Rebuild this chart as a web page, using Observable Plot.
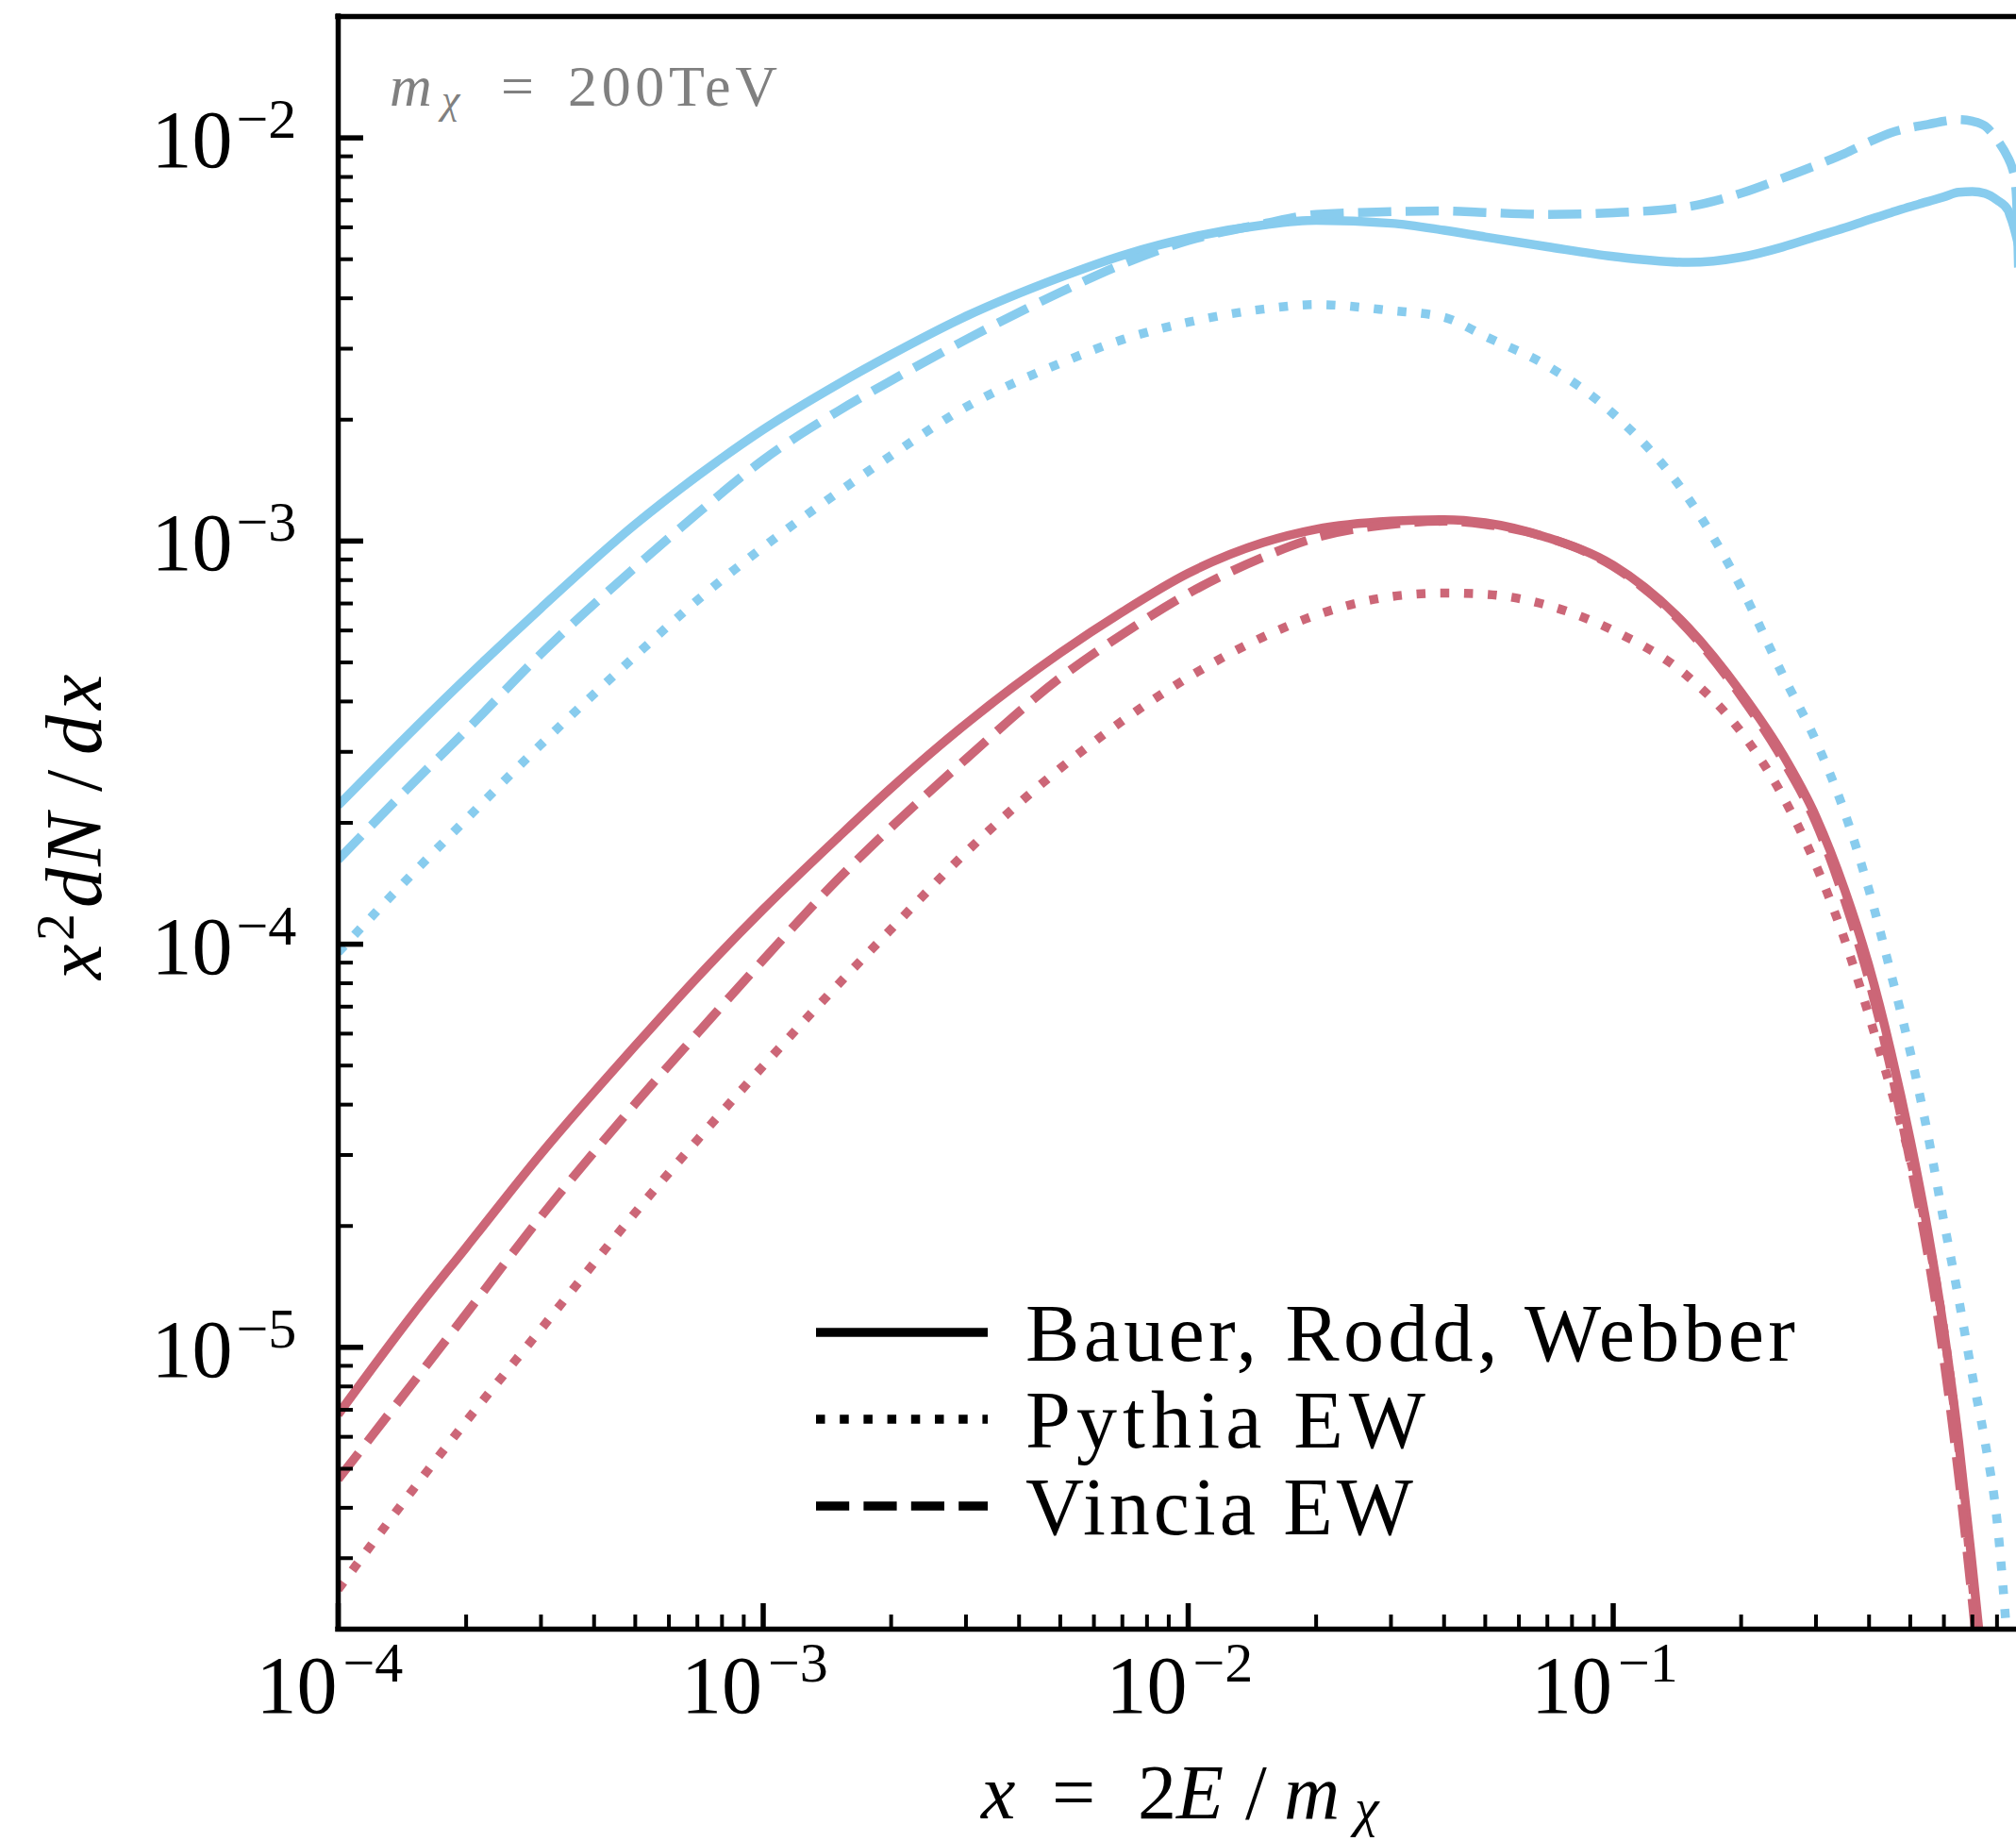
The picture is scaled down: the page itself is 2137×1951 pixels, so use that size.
<!DOCTYPE html>
<html>
<head>
<meta charset="utf-8">
<script src="https://cdn.jsdelivr.net/npm/d3@7"></script>
<script src="https://cdn.jsdelivr.net/npm/@observablehq/plot@0.6"></script>
<style>
  html, body { margin: 0; padding: 0; background: #fff; overflow: hidden; }
  #chart svg { display: block; }
</style>
</head>
<body>
<div id="chart"></div>
<script>
// ---------------- data ----------------
const xGrid = [1e-4, 1.5e-4, 2e-4, 3e-4, 5e-4, 7e-4, 1e-3, 1.5e-3, 2e-3, 3e-3, 5e-3, 7e-3,
  1e-2, 1.5e-2, 2e-2, 3e-2, 4e-2, 5e-2, 7e-2, 0.1, 0.15, 0.2, 0.25, 0.3, 0.35, 0.4, 0.45, 0.5,
  0.55, 0.6, 0.65, 0.7, 0.75, 0.8, 0.85, 0.86, 0.87, 0.88, 0.89, 0.9];

// light blue family
const blueBRW = [2.21e-4, 3.40e-4, 4.57e-4, 6.82e-4, 1.10e-3, 1.45e-3, 1.89e-3, 2.45e-3, 2.90e-3,
  3.61e-3, 4.51e-3, 5.11e-3, 5.65e-3, 6.08e-3, 6.24e-3, 6.14e-3, 5.90e-3, 5.68e-3, 5.37e-3, 5.08e-3,
  4.91e-3, 5.06e-3, 5.36e-3, 5.69e-3, 5.98e-3, 6.27e-3, 6.52e-3, 6.75e-3, 6.95e-3, 7.14e-3,
  7.33e-3, 7.36e-3, 7.28e-3, 7.01e-3, 6.61e-3, 6.38e-3, 6.17e-3, 5.92e-3, 5.65e-3, 5.37e-3];
const bluePythia = [9.55e-5, 1.50e-4, 2.04e-4, 3.13e-4, 5.19e-4, 7.13e-4, 9.66e-4, 1.32e-3, 1.63e-3,
  2.15e-3, 2.76e-3, 3.16e-3, 3.49e-3, 3.76e-3, 3.86e-3, 3.73e-3, 3.59e-3, 3.22e-3, 2.72e-3, 2.07e-3,
  1.28e-3, 7.67e-4, 4.68e-4, 3.19e-4, 2.13e-4, 1.36e-4, 8.49e-5, 5.41e-5, 3.37e-5, 2.05e-5,
  1.32e-5, 8.51e-6, 5.82e-6, 3.72e-6, 1.74e-6, null, null, null, null, null];
const blueVincia = [1.62e-4, 2.51e-4, 3.39e-4, 5.25e-4, 8.61e-4, 1.17e-3, 1.59e-3, 2.10e-3, 2.50e-3,
  3.16e-3, 4.14e-3, 4.86e-3, 5.56e-3, 6.12e-3, 6.46e-3, 6.56e-3, 6.59e-3, 6.53e-3, 6.46e-3, 6.52e-3,
  6.75e-3, 7.29e-3, 7.94e-3, 8.55e-3, 9.14e-3, 9.77e-3, 1.03e-2, 1.06e-2, 1.08e-2, 1.10e-2,
  1.11e-2, 1.10e-2, 1.07e-2, 9.91e-3, 8.91e-3, 8.67e-3, 8.38e-3, 7.94e-3, 6.92e-3, 4.47e-3];

// red family
const redBRW = [6.82e-6, 1.21e-5, 1.77e-5, 3.02e-5, 5.60e-5, 8.28e-5, 1.22e-4, 1.84e-4, 2.44e-4,
  3.52e-4, 5.28e-4, 6.67e-4, 8.32e-4, 9.91e-4, 1.07e-3, 1.12e-3, 1.13e-3, 1.11e-3, 1.02e-3, 8.71e-4,
  6.11e-4, 4.21e-4, 2.97e-4, 2.07e-4, 1.37e-4, 8.81e-5, 5.42e-5, 3.27e-5, 1.94e-5, 1.10e-5,
  5.83e-6, 2.86e-6, 1.41e-6, null, null, null, null, null, null, null];
const redPythia = [2.51e-6, 4.44e-6, 6.55e-6, 1.11e-5, 2.16e-5, 3.27e-5, 4.99e-5, 7.94e-5, 1.09e-4,
  1.69e-4, 2.73e-4, 3.58e-4, 4.59e-4, 5.78e-4, 6.55e-4, 7.28e-4, 7.43e-4, 7.38e-4, 6.93e-4, 6.00e-4,
  4.61e-4, 3.36e-4, 2.34e-4, 1.57e-4, 1.03e-4, 6.64e-5, 4.38e-5, 2.93e-5, 1.88e-5, 1.10e-5,
  5.65e-6, 2.59e-6, 1.26e-6, null, null, null, null, null, null, null];
const redVincia = [4.71e-6, 8.17e-6, 1.21e-5, 2.11e-5, 4.02e-5, 6.01e-5, 9.14e-5, 1.45e-4, 1.95e-4,
  2.88e-4, 4.58e-4, 5.87e-4, 7.41e-4, 9.12e-4, 1.02e-3, 1.10e-3, 1.12e-3, 1.10e-3, 1.02e-3, 8.65e-4,
  6.03e-4, 4.12e-4, 2.88e-4, 2.00e-4, 1.29e-4, 8.13e-5, 4.90e-5, 2.88e-5, 1.70e-5, 9.33e-6,
  4.79e-6, 2.34e-6, 1.12e-6, null, null, null, null, null, null, null];

const legendLabels = ["Bauer, Rodd, Webber", "Pythia EW", "Vincia EW"];
const massLabel = "200TeV";

const xMajorTicks = [1e-4, 1e-3, 1e-2, 1e-1];
const xTickExponents = ["\u22124", "\u22123", "\u22122", "\u22121"];
const xMinorTicks = [2e-4, 3e-4, 4e-4, 5e-4, 6e-4, 7e-4, 8e-4, 9e-4,
  2e-3, 3e-3, 4e-3, 5e-3, 6e-3, 7e-3, 8e-3, 9e-3,
  2e-2, 3e-2, 4e-2, 5e-2, 6e-2, 7e-2, 8e-2, 9e-2,
  0.2, 0.3, 0.4, 0.5, 0.6, 0.7, 0.8];
const yMajorTicks = [1e-5, 1e-4, 1e-3, 1e-2];
const yTickExponents = ["\u22125", "\u22124", "\u22123", "\u22122"];
const yMinorTicks = [3e-6, 4e-6, 5e-6, 6e-6, 7e-6, 8e-6, 9e-6,
  2e-5, 3e-5, 4e-5, 5e-5, 6e-5, 7e-5, 8e-5, 9e-5,
  2e-4, 3e-4, 4e-4, 5e-4, 6e-4, 7e-4, 8e-4, 9e-4,
  2e-3, 3e-3, 4e-3, 5e-3, 6e-3, 7e-3, 8e-3, 9e-3];

// ---------------- styling ----------------
const SERIF = "'Liberation Serif', 'Times New Roman', serif";
const BLUE = "#88CCEE", RED = "#CC6677";
const LW = 9.5;
const DOT = "9.5,15.7", DASH = "35.2,15.2";

const W = 2137, H = 1951;
const mL = 358, mR = 0, mT = 17, mB = 225;
const plotW = W - mL - mR, plotH = H - mT - mB;

const series = [
  {ys: blueBRW, stroke: BLUE, dash: null},
  {ys: bluePythia, stroke: BLUE, dash: DOT},
  {ys: blueVincia, stroke: BLUE, dash: DASH},
  {ys: redBRW, stroke: RED, dash: null},
  {ys: redPythia, stroke: RED, dash: DOT},
  {ys: redVincia, stroke: RED, dash: DASH}
];

const lineMarks = series.map(s =>
  Plot.line(
    xGrid.map((x, i) => ({x, y: s.ys[i]})).filter(d => d.y != null),
    {x: "x", y: "y", stroke: s.stroke, strokeWidth: LW,
     strokeDasharray: s.dash || undefined, strokeLinecap: "butt", strokeLinejoin: "round",
     curve: "monotone-x", clip: true}
  )
);

const chart = Plot.plot({
  width: W, height: H,
  marginLeft: mL, marginRight: mR, marginTop: mT, marginBottom: mB,
  style: {background: "white"},
  x: {type: "log", domain: [1e-4, 0.889], axis: null},
  y: {type: "log", domain: [2e-6, 2e-2], axis: null},
  marks: [
    ...lineMarks,
    // ticks (inward, matplotlib style)
    Plot.ruleX(xMinorTicks, {x: d => d, stroke: "black", strokeWidth: 4, insetTop: plotH - 15}),
    Plot.ruleX(xMajorTicks, {x: d => d, stroke: "black", strokeWidth: 5.5, insetTop: plotH - 27}),
    Plot.ruleY(yMinorTicks, {y: d => d, stroke: "black", strokeWidth: 4, insetRight: plotW - 16}),
    Plot.ruleY(yMajorTicks, {y: d => d, stroke: "black", strokeWidth: 5.5, insetRight: plotW - 27}),
    // frame (left, bottom, top)
    Plot.ruleX([1e-4], {x: d => d, stroke: "black", strokeWidth: 5.5, strokeLinecap: "square"}),
    Plot.ruleY([2e-6], {y: d => d, stroke: "black", strokeWidth: 5.5, strokeLinecap: "square"}),
    Plot.ruleY([2e-2], {y: d => d, stroke: "black", strokeWidth: 5.5, strokeLinecap: "square"}),
    // x tick labels 10^k
    Plot.text(xMajorTicks, {x: d => d, frameAnchor: "bottom", text: () => "10",
      textAnchor: "end", lineAnchor: "bottom", dx: -1, dy: 88,
      fontSize: 86, fontFamily: SERIF, fill: "black"}),
    Plot.text(xMajorTicks, {x: d => d, frameAnchor: "bottom", text: (d, i) => xTickExponents[i],
      textAnchor: "start", lineAnchor: "bottom", dx: 5, dy: 55,
      fontSize: 60, fontFamily: SERIF, fill: "black"}),
    // y tick labels 10^k
    Plot.text(yMajorTicks, {y: d => d, frameAnchor: "left", text: () => "10",
      textAnchor: "end", lineAnchor: "bottom", dx: -112, dy: 31,
      fontSize: 86, fontFamily: SERIF, fill: "black"}),
    Plot.text(yMajorTicks, {y: d => d, frameAnchor: "left", text: (d, i) => yTickExponents[i],
      textAnchor: "start", lineAnchor: "bottom", dx: -108, dy: 0,
      fontSize: 60, fontFamily: SERIF, fill: "black"})
  ]
});
document.getElementById("chart").append(chart);

// ---------------- annotations: labels, title, legend ----------------
const svg = d3.select(chart);

function addPieces(textSel, pieces) {
  pieces.forEach(p => {
    const ts = textSel.append("tspan").attr("x", p.x).attr("y", p.y).text(p.t);
    if (p.it) ts.attr("font-style", "italic");
    if (p.fs) ts.attr("font-size", p.fs);
    if (p.len) ts.attr("textLength", p.len).attr("lengthAdjust", "spacing");
  });
}

// y axis label: x^2 dN/dx (rotated)
const yl = svg.append("text")
  .attr("transform", "translate(107,872) rotate(-90)")
  .attr("text-anchor", "start")
  .attr("font-family", SERIF).attr("font-size", 84).attr("fill", "black");
addPieces(yl, [
  {t: "x", x: -166, y: 0, it: true},
  {t: "2", x: -125, y: -29, fs: 58},
  {t: "d", x: -90, y: 0, it: true},
  {t: "N", x: -46, y: 0, it: true},
  {t: "/", x: 33, y: 0},
  {t: "d", x: 72, y: 0, it: true},
  {t: "x", x: 120, y: 0, it: true}
]);

// x axis label: x = 2E/m_chi
const xl = svg.append("text")
  .attr("text-anchor", "start")
  .attr("font-family", SERIF).attr("font-size", 82).attr("fill", "black");
addPieces(xl, [
  {t: "x", x: 1040, y: 1927, it: true},
  {t: "=", x: 1115, y: 1927},
  {t: "2", x: 1206, y: 1927},
  {t: "E", x: 1247, y: 1927, it: true},
  {t: "/", x: 1320, y: 1927},
  {t: "m", x: 1361, y: 1927, it: true},
  {t: "\u03C7", x: 1436, y: 1935, it: true, fs: 58}
]);

// mass annotation (grey)
const tl = svg.append("text")
  .attr("text-anchor", "start")
  .attr("font-family", SERIF).attr("font-size", 62).attr("fill", "#808080");
addPieces(tl, [
  {t: "m", x: 413, y: 112, it: true},
  {t: "\u03C7", x: 468, y: 120, it: true, fs: 44},
  {t: "=", x: 531, y: 112, len: 46},
  {t: massLabel, x: 602, y: 112, len: 222}
]);

// legend
const legendDashes = [null, DOT, DASH];
const legendWidths = [816, 424, 411];
const lg = svg.append("g");
legendLabels.forEach((lab, i) => {
  const yLine = 1412 + i * 92;
  const ln = lg.append("line")
    .attr("x1", 865).attr("x2", 1047).attr("y1", yLine).attr("y2", yLine)
    .attr("stroke", "black").attr("stroke-width", LW).attr("stroke-linecap", "butt");
  if (legendDashes[i]) ln.attr("stroke-dasharray", legendDashes[i]);
  lg.append("text")
    .attr("x", 1087).attr("y", 1442 + i * 92)
    .attr("text-anchor", "start")
    .attr("font-family", SERIF).attr("font-size", 86).attr("fill", "black")
    .attr("textLength", legendWidths[i]).attr("lengthAdjust", "spacing")
    .text(lab);
});
</script>
</body>
</html>
